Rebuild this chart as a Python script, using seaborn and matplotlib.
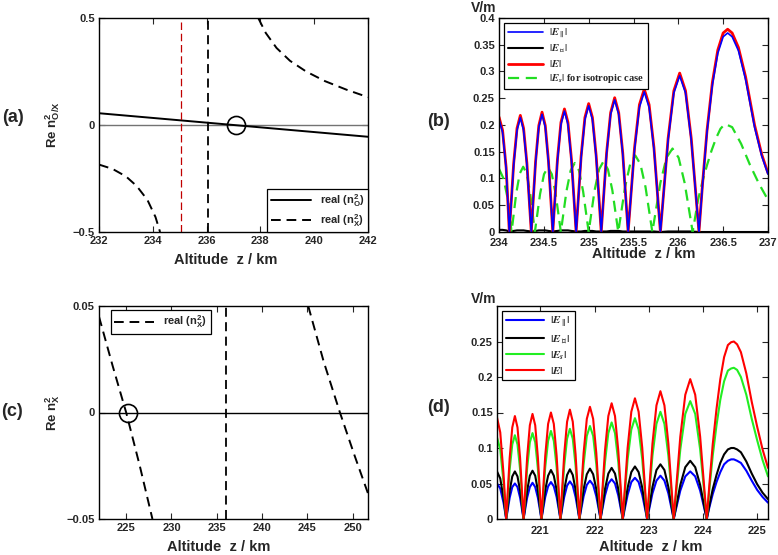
import matplotlib
matplotlib.use("Agg")
import matplotlib.pyplot as plt
from matplotlib.ticker import FuncFormatter
import seaborn as sns

# ---- panel (a): refractive index near reflection point ----
a_z_o = [232.0, 242.0]
a_n_o = [0.055, -0.055]
a_z_x_up = [237.92, 238.2, 238.6, 239.1, 239.7, 240.4, 241.2, 242.0]
a_n_x_up = [0.5, 0.43, 0.36, 0.30, 0.25, 0.205, 0.165, 0.13]
a_z_x_low = [232.0, 232.5, 233.0, 233.4, 233.8, 234.1, 234.27]
a_n_x_low = [-0.185, -0.205, -0.24, -0.285, -0.35, -0.43, -0.5]
a_vline_red = 235.05
a_vline_black = 236.07
a_circle = (237.1, 0.0)

# ---- panel (b): field amplitudes ----
b_z = [234.0, 234.04, 234.08, 234.115,
       234.164, 234.201, 234.238, 234.274, 234.311, 234.36,
       234.408, 234.444, 234.48, 234.516, 234.552, 234.60,
       234.652, 234.691, 234.73, 234.769, 234.808, 234.86,
       234.916, 234.958, 235.0, 235.042, 235.084, 235.14,
       235.20, 235.245, 235.29, 235.335, 235.38, 235.44,
       235.512, 235.566, 235.62, 235.674, 235.728, 235.80,
       235.886, 235.95, 236.015, 236.08, 236.144, 236.23,
       236.27, 236.32, 236.38, 236.44, 236.5, 236.55, 236.6, 236.67, 236.75, 236.85, 236.93, 237.0]
b_e_total = [0.215, 0.19, 0.12, 0,
             .129, .194, .218, .194, .129, 0,
             .132, .199, .224, .199, .132, 0,
             .136, .205, .230, .205, .136, 0,
             .142, .214, .240, .214, .142, 0,
             .148, .223, .251, .223, .148, 0,
             .158, .238, .267, .238, .158, 0,
             .175, .264, .297, .264, .175, 0,
             .09, .19, .28, .34, .372, .379, .372, .345, .29, .2, .145, .11]
b_e_par = [0.211, 0.186, 0.118, 0,
           .126, .190, .214, .190, .126, 0,
           .130, .196, .220, .196, .130, 0,
           .133, .201, .226, .201, .133, 0,
           .139, .210, .236, .210, .139, 0,
           .146, .220, .247, .220, .146, 0,
           .155, .233, .262, .233, .155, 0,
           .172, .260, .292, .260, .172, 0,
           .088, .187, .275, .334, .365, .372, .365, .339, .285, .196, .142, .108]
b_e_perp = [0.004, 0.004, 0.003, 0.001,
            .002, .003, .003, .003, .002, .001,
            .002, .003, .003, .003, .002, .001,
            .002, .003, .003, .003, .002, .001,
            .001, .002, .002, .002, .001, .001,
            .001, .002, .002, .002, .001, .001,
            .001, .001, .001, .001, .001, 0,
            .001, .001, .001, .001, .001, 0,
            0, 0, 0, 0, 0, 0, 0, 0, 0, 0, 0, 0]
b_z_iso = [234.0, 234.05, 234.1, 234.14,
           234.192, 234.231, 234.27, 234.309, 234.348, 234.40,
           234.458, 234.502, 234.545, 234.589, 234.632, 234.69,
           234.752, 234.799, 234.845, 234.892, 234.938, 235.0,
           235.066, 235.116, 235.165, 235.215, 235.264, 235.33,
           235.406, 235.463, 235.52, 235.577, 235.634, 235.71,
           235.80, 235.868, 235.935, 236.003, 236.07, 236.16,
           236.22, 236.27, 236.32, 236.37, 236.42, 236.47, 236.52, 236.6, 236.7, 236.8, 236.9, 237.0]
b_e_iso = [0.118, 0.10, 0.06, 0,
           .072, .109, .122, .109, .072, 0,
           .071, .108, .121, .108, .071, 0,
           .076, .115, .129, .115, .076, 0,
           .078, .117, .132, .117, .078, 0,
           .084, .127, .143, .127, .084, 0,
           .092, .139, .156, .139, .092, 0,
           .06, .095, .125, .152, .175, .193, .202, .196, .165, .125, .09, .06]

# ---- panel (c): X mode index ----
c_z_x_left = [222.0, 223.5, 225.0, 226.5, 227.9]
c_n_x_left = [0.045, 0.022, 0.0, -0.025, -0.05]
c_z_x_right = [245.1, 246.8, 248.6, 250.2, 251.7]
c_n_x_right = [0.05, 0.024, 0.0, -0.02, -0.038]
c_vline = 236.0
c_circle = (225.2, 0.0)

# ---- panel (d): field amplitudes ----
d_z = [220.2, 220.26, 220.32, 220.37,
       220.434, 220.482, 220.53, 220.578, 220.626, 220.69,
       220.756, 220.806, 220.855, 220.905, 220.954, 221.02,
       221.09, 221.143, 221.195, 221.248, 221.30, 221.37,
       221.44, 221.493, 221.545, 221.598, 221.65, 221.72,
       221.798, 221.857, 221.915, 221.974, 222.032, 222.11,
       222.192, 222.254, 222.315, 222.377, 222.438, 222.52,
       222.61, 222.678, 222.745, 222.813, 222.88, 222.97,
       223.068, 223.142, 223.215, 223.289, 223.362, 223.46,
       223.582, 223.674, 223.765, 223.857, 223.948, 224.07,
       224.12, 224.18, 224.25, 224.32, 224.39, 224.46, 224.52, 224.57,
       224.63, 224.7, 224.8, 224.9, 225.0, 225.1, 225.2]
d_e_total = [0.143, 0.122, 0.064, 0,
             .086, .129, .145, .129, .086, 0,
             .087, .132, .148, .132, .087, 0,
             .089, .134, .150, .134, .089, 0,
             .091, .137, .154, .137, .091, 0,
             .093, .141, .158, .141, .093, 0,
             .096, .145, .163, .145, .096, 0,
             .100, .151, .170, .151, .100, 0,
             .106, .160, .180, .160, .106, 0,
             .116, .175, .197, .175, .116, 0,
             .05, .105, .155, .197, .228, .245, .249, .25,
             .246, .235, .205, .165, .13, .098, .072]
d_e_s = [0.115, 0.098, 0.052, 0,
         .070, .105, .118, .105, .070, 0,
         .071, .108, .121, .108, .071, 0,
         .073, .110, .124, .110, .073, 0,
         .075, .113, .127, .113, .075, 0,
         .077, .117, .131, .117, .077, 0,
         .080, .121, .136, .121, .080, 0,
         .084, .126, .142, .126, .084, 0,
         .089, .134, .151, .134, .089, 0,
         .098, .148, .166, .148, .098, 0,
         .043, .089, .132, .168, .194, .209, .212, .213,
         .21, .2, .175, .141, .111, .083, .06]
d_e_perp = [0.067, 0.057, 0.030, 0,
            .040, .060, .067, .060, .040, 0,
            .040, .061, .068, .061, .040, 0,
            .041, .061, .069, .061, .041, 0,
            .041, .062, .070, .062, .041, 0,
            .042, .063, .071, .063, .042, 0,
            .042, .064, .072, .064, .042, 0,
            .044, .066, .074, .066, .044, 0,
            .045, .069, .077, .069, .045, 0,
            .048, .073, .082, .073, .048, 0,
            .02, .042, .062, .079, .091, .098, .1, .1,
            .098, .094, .081, .064, .049, .037, .028]
d_e_par = [0.050, 0.043, 0.023, 0,
           .030, .045, .050, .045, .030, 0,
           .030, .045, .051, .045, .030, 0,
           .031, .046, .052, .046, .031, 0,
           .031, .047, .053, .047, .031, 0,
           .032, .048, .054, .048, .032, 0,
           .033, .050, .056, .050, .033, 0,
           .034, .052, .058, .052, .034, 0,
           .036, .054, .061, .054, .036, 0,
           .040, .060, .067, .060, .040, 0,
           .017, .035, .052, .066, .077, .082, .084, .084,
           .082, .079, .068, .054, .041, .031, .023]

sns.set_style("ticks")
plt.rcParams["font.family"] = ["Liberation Sans", "DejaVu Sans"]
plt.rcParams["font.weight"] = "bold"
plt.rcParams["axes.labelweight"] = "bold"
plt.rcParams["mathtext.fontset"] = "custom"
plt.rcParams["mathtext.rm"] = "Liberation Sans"
plt.rcParams["mathtext.bf"] = "Liberation Sans:bold"
plt.rcParams["mathtext.it"] = "Liberation Sans:italic"

W, H = 778, 555
fig = plt.figure(figsize=(W / 100, H / 100), dpi=100)


def box(l, t, r, b):
    return [l / W, 1 - b / H, (r - l) / W, (b - t) / H]


fmt = FuncFormatter(lambda v, p: f"{v:g}".replace("-", "\u2212"))
dash = (0, (5, 3))


def style_axes(ax, xpad=3):
    ax.tick_params(direction="in", top=True, right=True, length=4,
                   width=0.8, labelsize=8, pad=3)
    ax.tick_params(axis="x", pad=xpad)
    for lab in ax.get_xticklabels() + ax.get_yticklabels():
        lab.set_fontweight("bold")
    for s in ax.spines.values():
        s.set_linewidth(1.0)
        s.set_color("black")
    ax.xaxis.set_major_formatter(fmt)
    ax.yaxis.set_major_formatter(fmt)


def math_legend(ax, handles, labels, anchor, size=8):
    leg = ax.legend(handles, labels, loc="upper left", bbox_to_anchor=anchor,
                    frameon=True, fancybox=False, framealpha=1,
                    edgecolor="black", handlelength=3.4, borderaxespad=0,
                    labelspacing=0.3, borderpad=0.35, handletextpad=0.6,
                    prop={"family": "Liberation Serif", "weight": "bold", "size": size})
    leg.get_frame().set_linewidth(0.9)
    for t in leg.get_texts():
        t.set_math_fontfamily("stix")
    return leg


def plain_legend(ax, handles, labels, **kw):
    leg = ax.legend(handles, labels, frameon=True, fancybox=False, framealpha=1,
                    edgecolor="black", handlelength=3.6, labelspacing=0.25,
                    borderpad=0.3, prop={"weight": "bold", "size": 8}, **kw)
    leg.get_frame().set_linewidth(0.9)
    return leg


# ---------------- (a) ----------------
ax = fig.add_axes(box(99, 18, 368, 232))
ax.axhline(0, color="0.45", lw=1.0)
sns.lineplot(x=a_z_o, y=a_n_o, ax=ax, color="black", lw=1.4)
sns.lineplot(x=a_z_x_up, y=a_n_x_up, ax=ax, color="black", lw=1.4, linestyle=dash)
sns.lineplot(x=a_z_x_low, y=a_n_x_low, ax=ax, color="black", lw=1.4, linestyle=dash)
ax.axvline(a_vline_red, color="#c00000", lw=0.9, linestyle=(0, (6, 3)))
ax.axvline(a_vline_black, color="black", lw=1.3, linestyle=(0, (5, 3)))
ax.plot([a_circle[0]], [a_circle[1]], "o", ms=13, mfc="none", mec="black", mew=1.2)
ax.set_xlim(232, 242)
ax.set_ylim(-0.5, 0.5)
ax.set_xticks([232, 234, 236, 238, 240, 242])
ax.set_yticks([-0.5, 0, 0.5])
style_axes(ax)
h = ax.get_lines()
plain_legend(ax, [h[1], h[2]], [r"real ($\mathbf{n_O^2}$)", r"real ($\mathbf{n_X^2}$)"],
             loc="lower right", borderaxespad=0.0)
ax.set_xlabel("Altitude  z / km", fontsize=10.5)
ax.set_ylabel(r"Re $\mathbf{n^2_{O/X}}$", fontsize=9.5)
ax.xaxis.set_label_coords(0.472, -0.1)
ax.yaxis.set_label_coords(-0.138, 0.5)

# ---------------- (b) ----------------
ax = fig.add_axes(box(499, 18, 768, 232))
sns.lineplot(x=b_z, y=b_e_perp, ax=ax, color="black", lw=1.5)
sns.lineplot(x=b_z_iso, y=b_e_iso, ax=ax, color="#22dd22", lw=1.6, linestyle=dash)
sns.lineplot(x=b_z, y=b_e_total, ax=ax, color="red", lw=2.0)
sns.lineplot(x=b_z, y=b_e_par, ax=ax, color="blue", lw=1.2)
ax.set_xlim(234, 237)
ax.set_ylim(0, 0.4)
ax.set_xticks([234, 234.5, 235, 235.5, 236, 236.5, 237])
ax.set_yticks([0, 0.05, 0.1, 0.15, 0.2, 0.25, 0.3, 0.35, 0.4])
style_axes(ax, xpad=4)
ln = ax.get_lines()
math_legend(ax, [ln[3], ln[0], ln[2], ln[1]],
            [r"$|E_{\parallel}|$", r"$|E_{\perp}|$", r"$|E|$",
             r"$|E_s|$ for isotropic case"], (0.019, 0.977), size=7.5)
ax.set_xlabel("Altitude  z / km", fontsize=10.5)
ax.set_ylabel("")
ax.xaxis.set_label_coords(0.539, -0.068)
fig.text(484 / W, 1 - 8 / H, "V/m", ha="center", va="center", fontsize=10, fontweight="bold")

# ---------------- (c) ----------------
ax = fig.add_axes(box(99, 306, 368, 519))
ax.axhline(0, color="black", lw=1.0)
sns.lineplot(x=c_z_x_left, y=c_n_x_left, ax=ax, color="black", lw=1.4, linestyle=dash)
sns.lineplot(x=c_z_x_right, y=c_n_x_right, ax=ax, color="black", lw=1.4, linestyle=dash)
ax.axvline(c_vline, color="black", lw=1.3, linestyle=(0, (5, 3)))
ax.plot([c_circle[0]], [c_circle[1]], "o", ms=13, mfc="none", mec="black", mew=1.2)
ax.set_xlim(222, 251.7)
ax.set_ylim(-0.05, 0.05)
ax.set_xticks([225, 230, 235, 240, 245, 250])
ax.set_yticks([-0.05, 0, 0.05])
style_axes(ax)
h = ax.get_lines()
plain_legend(ax, [h[1]], [r"real ($\mathbf{n_X^2}$)"],
             loc="upper left", bbox_to_anchor=(0.045, 0.98), borderaxespad=0)
ax.set_xlabel("Altitude  z / km", fontsize=10.5)
ax.set_ylabel(r"Re $\mathbf{n^2_X}$", fontsize=9.5)
ax.xaxis.set_label_coords(0.446, -0.1)
ax.yaxis.set_label_coords(-0.138, 0.5)

# ---------------- (d) ----------------
ax = fig.add_axes(box(497, 306, 768, 519))
sns.lineplot(x=d_z, y=d_e_par, ax=ax, color="blue", lw=1.5)
sns.lineplot(x=d_z, y=d_e_perp, ax=ax, color="black", lw=1.5)
sns.lineplot(x=d_z, y=d_e_s, ax=ax, color="#22ee22", lw=1.5)
sns.lineplot(x=d_z, y=d_e_total, ax=ax, color="red", lw=1.5)
ax.set_xlim(220.2, 225.2)
ax.set_ylim(0, 0.3)
ax.set_xticks([221, 222, 223, 224, 225])
ax.set_yticks([0, 0.05, 0.1, 0.15, 0.2, 0.25])
style_axes(ax, xpad=5)
ln = ax.get_lines()
math_legend(ax, ln[:4], [r"$|E_{\parallel}|$", r"$|E_{\perp}|$", r"$|E_s|$", r"$|E|$"],
            (0.019, 0.977))
ax.set_xlabel("Altitude  z / km", fontsize=10.5)
ax.set_ylabel("")
ax.xaxis.set_label_coords(0.568, -0.1)
fig.text(484 / W, 1 - 299 / H, "V/m", ha="center", va="center", fontsize=10, fontweight="bold")

# panel letters
for x, y, s in [(2, 117, "(a)"), (427, 122, "(b)"), (1, 412, "(c)"), (427, 408, "(d)")]:
    fig.text(x / W, 1 - y / H, s, ha="left", va="center", fontsize=13, fontweight="bold")

fig.savefig("out.png", dpi=100)
